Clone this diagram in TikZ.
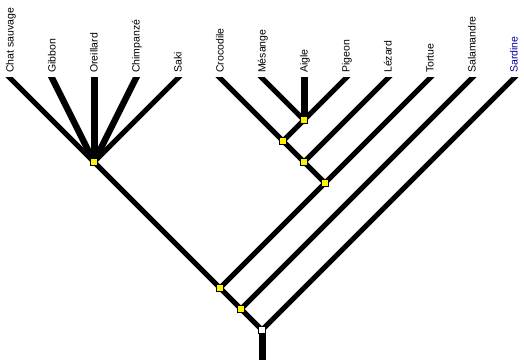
\documentclass[tikz,border=0pt]{standalone}
\usepackage{fontspec}
\setmainfont{Liberation Sans}
\definecolor{sardineblue}{RGB}{0,0,160}
\begin{document}
\begin{tikzpicture}[x=1pt,y=-1pt,
  branch/.style={line width=5pt,line cap=round,shorten >=-8pt},
  steepbranch/.style={branch,line width=6.3pt},
  vbranch/.style={branch,line width=7pt},
  stem/.style={line width=5pt,line cap=round,line join=round},
  vstem/.style={line width=7pt,line cap=round},
  knot/.style={draw=black,line width=1pt,fill=yellow,minimum size=7pt,inner sep=0pt,rectangle},
  rootknot/.style={knot,fill=white},
  taxon/.style={rotate=90,anchor=west,inner sep=0pt,font=\fontsize{10.5}{12}\selectfont,text height=0.72em,text depth=0pt}]
\useasboundingbox (0,0) rectangle (524,359);
% leaf coordinates
\coordinate (l1) at (10,78);
\coordinate (l2) at (52,78);
\coordinate (l3) at (94,78);
\coordinate (l4) at (136,78);
\coordinate (l5) at (178,78);
\coordinate (l6) at (220,78);
\coordinate (l7) at (262,78);
\coordinate (l8) at (304,78);
\coordinate (l9) at (346,78);
\coordinate (l10) at (388,78);
\coordinate (l11) at (430,78);
\coordinate (l12) at (472,78);
\coordinate (l13) at (514,78);
% internal nodes
\coordinate (nm) at (94,162);
\coordinate (na) at (304,120);
\coordinate (nc) at (283,141);
\coordinate (nl) at (304,162);
\coordinate (nt) at (325,183);
\coordinate (nx) at (220,288);
\coordinate (ns) at (241,309);
\coordinate (nr) at (262,330);
\coordinate (bottom) at (262,370);
\begin{scope}
\clip (0,77.5) rectangle (524,359);
\draw[branch] (nm) -- (l1);
\draw[steepbranch] (nm) -- (l2);
\draw[vbranch] (nm) -- (l3);
\draw[steepbranch] (nm) -- (l4);
\draw[branch] (nm) -- (l5);
\draw[branch] (nc) -- (l6);
\draw[branch] (na) -- (l7);
\draw[vbranch] (na) -- (l8);
\draw[branch] (na) -- (l9);
\draw[branch] (nl) -- (l10);
\draw[branch] (nt) -- (l11);
\draw[branch] (ns) -- (l12);
\draw[branch] (nr) -- (l13);
\draw[stem] (na) -- (nc) -- (nl) -- (nt);
\draw[stem] (nm) -- (nx) -- (ns) -- (nr);
\draw[stem] (nt) -- (nx);
\draw[vstem] (nr) -- (bottom);
\end{scope}
\node[knot] (km) at (nm) {};
\node[knot] (ka) at (na) {};
\node[knot] (kc) at (nc) {};
\node[knot] (kl) at (nl) {};
\node[knot] (kt) at (nt) {};
\node[knot] (kx) at (nx) {};
\node[knot] (ks) at (ns) {};
\node[rootknot] (kr) at (nr) {};
% labels
\node[taxon] (t1) at (10,73) {Chat sauvage};
\node[taxon] (t2) at (52,73) {Gibbon};
\node[taxon] (t3) at (94,73) {Oreillard};
\node[taxon] (t4) at (136,73) {Chimpanzé};
\node[taxon] (t5) at (178,73) {Saki};
\node[taxon] (t6) at (220,73) {Crocodile};
\node[taxon] (t7) at (262,73) {Mésange};
\node[taxon] (t8) at (304,73) {Aigle};
\node[taxon] (t9) at (346,73) {Pigeon};
\node[taxon] (t10) at (388,73) {Lézard};
\node[taxon] (t11) at (430,73) {Tortue};
\node[taxon] (t12) at (472,73) {Salamandre};
\node[taxon,text=sardineblue] (t13) at (514,73) {Sardine};
\end{tikzpicture}
\end{document}
